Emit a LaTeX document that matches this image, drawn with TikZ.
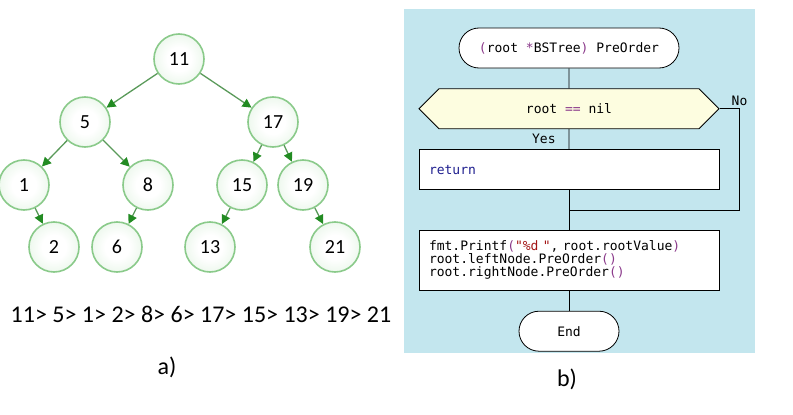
\documentclass[tikz,border=0pt]{standalone}
\usepackage{fontspec}
\setmonofont{DejaVu Sans Mono}
\newfontfamily\treefont{Carlito}
\usetikzlibrary{positioning,shapes,arrows.meta}
\definecolor{nodeedge}{HTML}{8ACA8A}
\definecolor{nodefill}{HTML}{CDEBCD}
\definecolor{linegreen}{HTML}{5A9A5A}
\definecolor{tipgreen}{HTML}{228B22}
\definecolor{flowbg}{HTML}{C3E6EE}
\definecolor{condfill}{HTML}{FDFDE0}
\definecolor{punct}{HTML}{8B3A8B}
\definecolor{strcol}{HTML}{A31515}
\definecolor{kw}{HTML}{1F1F8F}
\pgfdeclareradialshading{nodeglow}{\pgfpoint{0bp}{0bp}}{color(0bp)=(white); color(12bp)=(white); color(50bp)=(nodefill)}
\newcommand{\codefont}{\ttfamily\fontsize{13}{13}\selectfont}
\newcommand{\pu}[1]{{\color{punct}#1}}

\tikzset{
  treenode/.style={circle, draw=nodeedge, line width=1.6pt, shading=nodeglow,
    minimum size=50pt, inner sep=0pt, font=\treefont\fontsize{20}{24}\selectfont},
  treearrow/.style={draw=linegreen, line width=1.3pt,
    -{Triangle[length=9pt,width=9pt,color=tipgreen]}},
  termbox/.style={draw, fill=white, rounded corners=20pt, minimum width=220pt,
    minimum height=40pt, line width=0.8pt, font=\codefont},
  condbox/.style={signal, signal to=west and east, signal pointer angle=90, draw,
    fill=condfill, minimum width=300pt, minimum height=40pt, line width=0.8pt, font=\codefont},
  codebox/.style={draw, fill=white, text width=280pt, align=left, inner xsep=10pt,
    minimum height=40pt, line width=0.8pt, font=\codefont},
  flowline/.style={draw, line width=0.8pt},
  caption/.style={font=\treefont\fontsize{24}{28}\selectfont}
}

\begin{document}
\begin{tikzpicture}[x=1pt,y=-1pt,node distance=20pt]
          \useasboundingbox (0,0) rectangle (793,415);
          % a) the tree
          \node(n11)[treenode] at (179,59){11};
          \node(n5)[treenode] at (85,122){5};
          \node(n17)[treenode] at (273,122){17};
          \node(n1)[treenode] at (24,185){1};
          \node(n8)[treenode] at (148,185){8};
          \node(n15)[treenode] at (242,185){15};
          \node(n19)[treenode] at (303,185){19};
          \node(n2)[treenode] at (54,247){2};
          \node(n6)[treenode] at (117,247){6};
          \node(n13)[treenode] at (210,247){13};
          \node(n21)[treenode] at (335,247){21};
          \path[treearrow] (n11) edge (n5) edge (n17);
          \path[treearrow] (n5) edge (n1) edge (n8);
          \path[treearrow] (n17) edge (n15) edge (n19);
          \path[treearrow] (n1) edge (n2);
          \path[treearrow] (n8) edge (n6);
          \path[treearrow] (n15) edge (n13);
          \path[treearrow] (n19) edge (n21);
          \node(order)[caption] at (201,314.5){11> 5> 1> 2> 8> 6> 17> 15> 13> 19> 21};
          \node(capa)[caption] at (167,367.5){a)};
          % b) the flowchart
          \fill[flowbg] (404,9) rectangle (755,353);
          \node(start)[termbox] at (569,48){\pu{(}root \pu{*}BSTree\pu{)} PreOrder};
          \node(cond)[condbox,below=of start]{root \pu{==} nil};
          \node(ret)[codebox,below=of cond]{\color{kw}return};
          \node(proc)[codebox,below=40pt of ret,minimum height=60pt]{fmt.Printf\pu{(}{\color{strcol}"\%d "}, root.rootValue\pu{)}\\
            root.leftNode.PreOrder\pu{()}\\
            root.rightNode.PreOrder\pu{()}};
          \node(stop)[termbox,below=of proc,minimum width=100pt]{End};
          \path (ret.south) -- (proc.north) coordinate[midway] (merge);
          \path[flowline] (start) edge (cond);
          \path[flowline] (cond) edge node[left=13pt,inner sep=0pt,font=\codefont]{Yes} (ret);
          \path[flowline] (ret) edge (proc);
          \path[flowline] (proc) edge (stop);
          \draw[line width=0.8pt] (cond.east) -- ++(20pt,0) node[above,inner sep=3pt,font=\codefont]{No} |- (merge);
          \node(capb)[caption] at (567,379){b)};
        \end{tikzpicture}
\end{document}
